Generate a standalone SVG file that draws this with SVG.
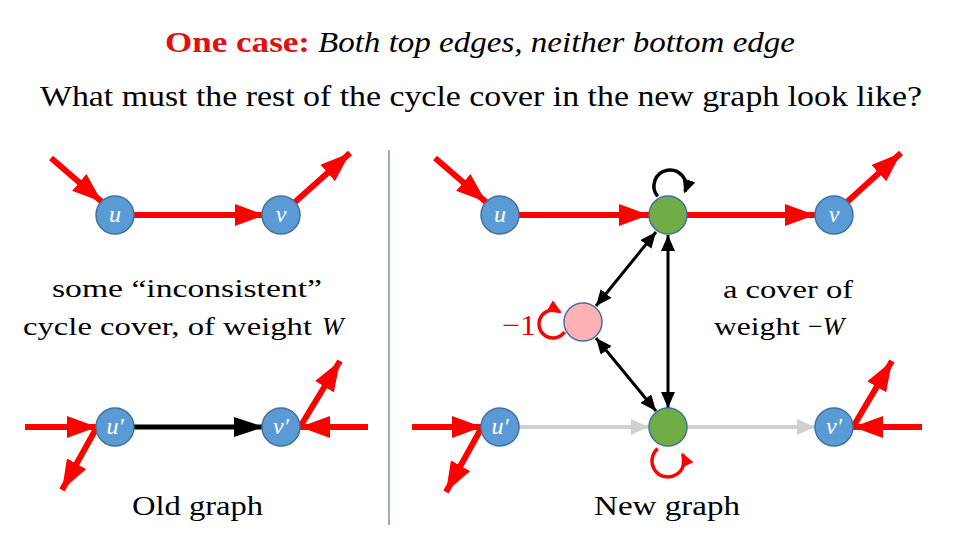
<svg xmlns="http://www.w3.org/2000/svg" width="960" height="540" viewBox="0 0 960 540">
<style>
.t{font-family:"Liberation Serif","DejaVu Serif",serif;fill:#000}
.nl{font-family:"Liberation Serif","DejaVu Serif",serif;font-style:italic;fill:#fff;font-size:24px;text-anchor:middle}
.blue{fill:#5B9BD5;stroke:#41719C;stroke-width:1.5}
.green{fill:#70AD47;stroke:#41719C;stroke-width:1.5}
.pink{fill:#FFB1B6;stroke:#41719C;stroke-width:1.5}
.r{stroke:#FF0000;stroke-width:6;fill:none;marker-end:url(#rh)}
.b{stroke:#000;stroke-width:5;fill:none;marker-end:url(#bh)}
.g{stroke:#D0D0D0;stroke-width:4;fill:none;marker-end:url(#gh)}
.d{stroke:#000;stroke-width:3;fill:none;marker-start:url(#sh);marker-end:url(#sh)}
</style>
<defs>
<marker id="rh" markerUnits="userSpaceOnUse" markerWidth="30" markerHeight="22" refX="30" refY="11" orient="auto"><path d="M0,0 L30,11 L0,22 z" fill="#FF0000"/></marker>
<marker id="bh" markerUnits="userSpaceOnUse" markerWidth="30" markerHeight="20" refX="30" refY="10" orient="auto"><path d="M0,0 L30,10 L0,20 z" fill="#000"/></marker>
<marker id="gh" markerUnits="userSpaceOnUse" markerWidth="18" markerHeight="16" refX="18" refY="8" orient="auto"><path d="M0,0 L18,8 L0,16 z" fill="#D0D0D0"/></marker>
<marker id="sh" markerUnits="userSpaceOnUse" markerWidth="16" markerHeight="14" refX="16" refY="7" orient="auto-start-reverse"><path d="M0,0 L16,7 L0,14 z" fill="#000"/></marker>
<marker id="lb" markerUnits="userSpaceOnUse" markerWidth="14" markerHeight="13" refX="12" refY="6.5" orient="auto"><path d="M0,0 L14,6.5 L0,13 z" fill="#000"/></marker>
<marker id="lr" markerUnits="userSpaceOnUse" markerWidth="14" markerHeight="13" refX="12" refY="6.5" orient="auto"><path d="M0,0 L14,6.5 L0,13 z" fill="#FF0000"/></marker>
</defs>

<g id="title">
<text class="t" x="165" y="52" font-size="29" font-weight="bold" style="fill:#E01010" textLength="145" lengthAdjust="spacingAndGlyphs">One case:</text>
<text class="t" x="318" y="52" font-size="29" font-style="italic" textLength="477" lengthAdjust="spacingAndGlyphs">Both top edges, neither bottom edge</text>
<text class="t" x="40" y="106" font-size="30" textLength="882" lengthAdjust="spacingAndGlyphs">What must the rest of the cycle cover in the new graph look like?</text>
</g>

<line id="divider" x1="389" y1="150" x2="389" y2="525" stroke="#7A90A8" stroke-width="1.5"/>

<g id="connectors">
<!-- left top -->
<line class="r" x1="51" y1="158" x2="102" y2="202"/>
<line class="r" x1="134" y1="215" x2="265" y2="215"/>
<line class="r" x1="295" y1="202" x2="350" y2="153"/>
<!-- left bottom -->
<line class="r" x1="25" y1="427" x2="97" y2="427"/>
<line class="r" x1="97" y1="427" x2="62" y2="490"/>
<line class="b" x1="134" y1="427" x2="264" y2="427"/>
<line class="r" x1="368" y1="427" x2="300" y2="427"/>
<line class="r" x1="300" y1="427" x2="340" y2="361"/>
<!-- right top -->
<line class="r" x1="435" y1="158" x2="486" y2="202"/>
<line class="r" x1="519" y1="215" x2="649" y2="215"/>
<line class="r" x1="687" y1="215" x2="815" y2="215"/>
<line class="r" x1="847" y1="202" x2="901" y2="153"/>
<path d="M657.7,196.3 A16,16 0 1,1 685,191.5" stroke="#000" stroke-width="3.5" fill="none" marker-end="url(#lb)"/>
<!-- middle -->
<line class="d" x1="656" y1="232" x2="596" y2="306"/>
<line class="d" x1="668" y1="235" x2="668" y2="408"/>
<line class="d" x1="596" y1="338" x2="656" y2="411"/>
<path d="M564.5,332 A14,14 0 1,1 560,311.9" stroke="#FF0000" stroke-width="3.5" fill="none" marker-end="url(#lr)"/>
<!-- right bottom -->
<line class="r" x1="412" y1="427" x2="482" y2="427"/>
<line class="r" x1="482" y1="427" x2="446" y2="492"/>
<line class="g" x1="519" y1="427" x2="649" y2="427"/>
<line class="g" x1="687" y1="427" x2="815" y2="427"/>
<line class="r" x1="922" y1="427" x2="853" y2="427"/>
<line class="r" x1="853" y1="427" x2="892" y2="361"/>
<path d="M657.7,448.7 A16,16 0 1,0 682.5,454.2" stroke="#FF0000" stroke-width="3.5" fill="none" marker-end="url(#lr)"/>
</g>

<g id="node-u-left"><circle class="blue" cx="115" cy="215" r="19"/><text class="nl" x="115" y="222">u</text></g>
<g id="node-v-left"><circle class="blue" cx="281" cy="215" r="19"/><text class="nl" x="281" y="222">v</text></g>
<g id="node-u2-left"><circle class="blue" cx="115" cy="427" r="19"/><text class="nl" x="115" y="434">u′</text></g>
<g id="node-v2-left"><circle class="blue" cx="281" cy="427" r="19"/><text class="nl" x="281" y="434">v′</text></g>

<g id="node-u-right"><circle class="blue" cx="500" cy="215" r="19"/><text class="nl" x="500" y="222">u</text></g>
<g id="node-top-green"><circle class="green" cx="668" cy="215" r="19"/></g>
<g id="node-v-right"><circle class="blue" cx="834" cy="215" r="19"/><text class="nl" x="834" y="222">v</text></g>
<g id="node-pink"><circle class="pink" cx="583" cy="322" r="19"/></g>
<g id="node-u2-right"><circle class="blue" cx="500" cy="427" r="19"/><text class="nl" x="500" y="434">u′</text></g>
<g id="node-bottom-green"><circle class="green" cx="668" cy="427" r="19"/></g>
<g id="node-v2-right"><circle class="blue" cx="834" cy="427" r="19"/><text class="nl" x="834" y="434">v′</text></g>

<g id="labels">
<text class="t" x="52" y="297" font-size="26" textLength="270" lengthAdjust="spacingAndGlyphs">some “inconsistent”</text>
<text class="t" x="23" y="335" font-size="26" textLength="289" lengthAdjust="spacingAndGlyphs">cycle cover, of weight</text>
<text class="t" x="322" y="335" font-size="26" font-style="italic">W</text>
<text class="t" x="723" y="298" font-size="26" textLength="130" lengthAdjust="spacingAndGlyphs">a cover of</text>
<text class="t" x="714" y="335" font-size="26" textLength="86" lengthAdjust="spacingAndGlyphs">weight</text>
<text class="t" x="808" y="335" font-size="26">−<tspan font-style="italic">W</tspan></text>
<text x="502" y="335" font-size="29" font-family="Liberation Serif, serif" fill="#E00000" textLength="34" lengthAdjust="spacingAndGlyphs">−1</text>
<text class="t" x="132" y="515" font-size="28" textLength="131" lengthAdjust="spacingAndGlyphs">Old graph</text>
<text class="t" x="594" y="515" font-size="28" textLength="146" lengthAdjust="spacingAndGlyphs">New graph</text>
</g>
</svg>
